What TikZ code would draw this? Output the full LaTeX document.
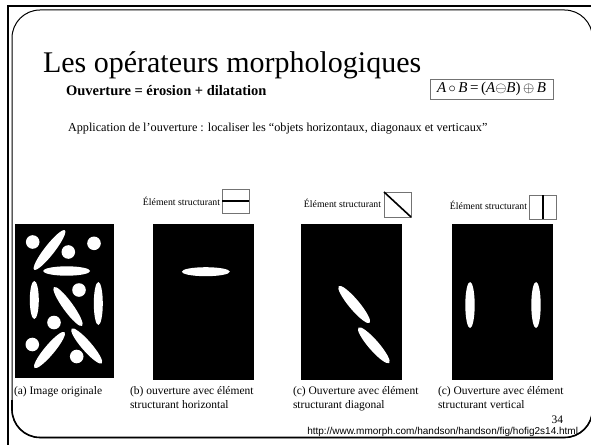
\documentclass[tikz,border=0pt]{standalone}
\usepackage{fontspec}
\setmainfont{Liberation Serif}
\newfontfamily\urlfont{Liberation Sans}
\begin{document}
\begin{tikzpicture}[x=1pt,y=-1pt,
  every node/.style={inner sep=0pt, outer sep=0pt},
  txt/.style={anchor=base west},
  captext/.style={anchor=base west, font=\fontsize{11.5}{13}\selectfont},
  selabel/.style={anchor=base east, font=\fontsize{9.8}{11}\selectfont},
  sebox/.style={draw=black!55, line width=0.8pt, minimum width=27pt, minimum height=24pt},
  seline/.style={line width=2pt, black},
  blob/.style={fill=white},
  picbg/.style={fill=black}]
\useasboundingbox (0,0) rectangle (591,444);
\clip (0,0) rectangle (591,444);
% frame
\draw[line width=2pt] (592,6) -- (8,6) -- (8,446);
\draw[line width=1pt, rounded corners=28pt] (12,10) rectangle (592.5,437.5);
\draw[line width=1.6pt, rounded corners=28pt] (12,400) -- (12,437.5) -- (592.5,437.5) -- (592.5,400);
% titles
\node[txt, font=\fontsize{30}{36}\selectfont] (title) at (43,72) {Les opérateurs morphologiques};
\node[txt, font=\bfseries\fontsize{14.5}{17}\selectfont] (sub) at (66,95) {Ouverture = érosion + dilatation};
\node[draw=black!55, line width=0.8pt, minimum width=123pt, minimum height=20pt, font=\fontsize{15}{17}\selectfont] (formula) at (491.5,89) {\textit{A}\,$\circ$\,\textit{B}\,=\,(\textit{A}$\ominus$\textit{B})\,$\oplus$\,\textit{B}};
\node[txt, font=\fontsize{12.2}{14}\selectfont] (app) at (68,131) {Application de l’ouverture : localiser les “objets horizontaux, diagonaux et verticaux”};
% structuring elements
\node[selabel] (lb) at (220,205) {Élément structurant};
\node[sebox] (seb) at (235.5,201) {};
\draw[seline] (seb.west) -- (seb.east);
\node[selabel] (lc) at (381,207) {Élément structurant};
\node[sebox, minimum height=25pt] (sec) at (397.5,204.5) {};
\draw[line width=1.6pt] (sec.north west) -- (sec.south east);
\node[selabel] (ld) at (527,209) {Élément structurant};
\node[sebox] (sed) at (542.5,207) {};
\draw[seline] (sed.north) -- (sed.south);
% image (a)
\fill[picbg] (15,224) rectangle (114,378);
\foreach \cx/\cy in {32.7/242, 68.3/252, 94/243.3, 79/290, 54/322.5, 32.3/344.5, 76.7/356.5}
  \fill[blob] (\cx,\cy) circle[radius=6.8pt];
\foreach \cx/\cy/\a/\b/\ang in {49.5/250/25/5/52, 66.7/271/23.5/4.7/0, 34.3/300/19/4.5/90, 68/306.5/24/5/-54, 98.3/303.5/21.5/4.5/90, 49.5/350/23.5/5/50, 86.7/346/23/5/-49}
  \fill[blob, shift={(\cx,\cy)}, rotate=\ang] (0,0) ellipse[x radius=\a pt, y radius=\b pt];
% image (b)
\fill[picbg] (153,224) rectangle (254,380);
\fill[blob] (205.8,271.7) ellipse[x radius=24pt, y radius=4.5pt];
% image (c)
\fill[picbg] (301,224) rectangle (402,380);
\fill[blob, shift={(354.2,304.5)}, rotate=-50] (0,0) ellipse[x radius=24pt, y radius=5.2pt];
\fill[blob, shift={(373.8,345.3)}, rotate=-49] (0,0) ellipse[x radius=23.5pt, y radius=5.2pt];
% image (d)
\fill[picbg] (452,224) rectangle (553,380);
\fill[blob] (470,305) ellipse[x radius=4.7pt, y radius=23pt];
\fill[blob] (536,305) ellipse[x radius=4.7pt, y radius=23pt];
% captions
\node[captext] (ca) at (14,394) {(a) Image originale};
\node[captext] (cb1) at (130,394) {(b) ouverture avec élément};
\node[captext] (cb2) at (130,408) {structurant horizontal};
\node[captext] (cc1) at (293,394) {(c) Ouverture avec élément};
\node[captext] (cc2) at (293,408) {structurant diagonal};
\node[captext] (cd1) at (438,394) {(c) Ouverture avec élément};
\node[captext] (cd2) at (438,408) {structurant vertical};
\node[anchor=base east, font=\fontsize{11.5}{13}\selectfont] (pg) at (563,423) {34};
\node[anchor=base east, font=\urlfont\fontsize{10}{12}\selectfont] (url) at (578,434) {http://www.mmorph.com/handson/handson/fig/hofig2s14.html};
\end{tikzpicture}
\end{document}
